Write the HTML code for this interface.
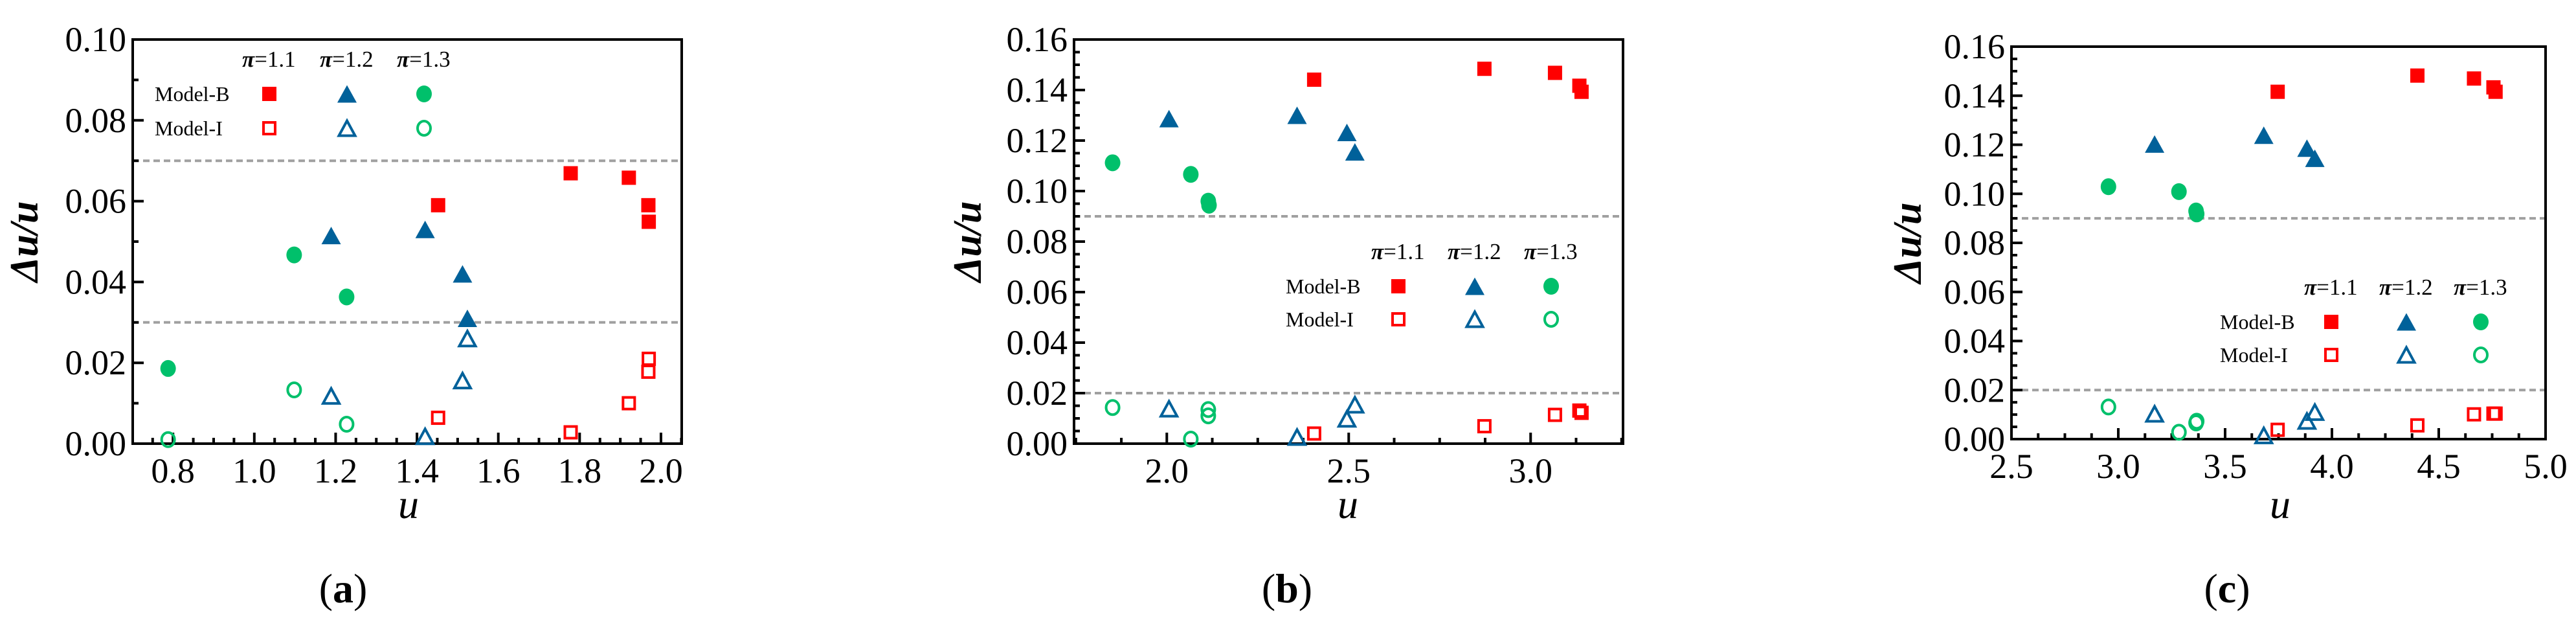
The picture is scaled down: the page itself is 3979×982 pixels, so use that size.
<!DOCTYPE html>
<html><head><meta charset="utf-8">
<style>
html,body{margin:0;padding:0;background:#fff;}
svg{display:block;}
svg text{font-family:"Liberation Serif","Times New Roman",serif;}
</style></head>
<body>
<svg id="fig" width="3979" height="982" viewBox="0 0 3979 982" xmlns="http://www.w3.org/2000/svg" font-family="Liberation Serif, serif"></svg>
<script>
// ---- Panel (a) data ----
const aBu = [1.452, 1.778, 1.921, 1.969, 1.970];
const aBv = [0.0590, 0.0669, 0.0658, 0.0590, 0.0549];
const aB2u = [1.189, 1.420, 1.512, 1.524];
const aB2v = [0.0515, 0.0530, 0.0420, 0.0310];
const aB3u = [0.788, 1.098, 1.227];
const aB3v = [0.0186, 0.0467, 0.0363];
const aIu = [1.452, 1.778, 1.921, 1.969, 1.970];
const aIv = [0.0064, 0.0028, 0.0100, 0.0178, 0.0210];
const aI2u = [1.189, 1.420, 1.512, 1.524];
const aI2v = [0.0118, 0.0018, 0.0156, 0.0260];
const aI3u = [0.788, 1.098, 1.227];
const aI3v = [0.0010, 0.0133, 0.0048];
const aXTicks = ["0.8","1.0","1.2","1.4","1.6","1.8","2.0"];
const aYTicks = ["0.00","0.02","0.04","0.06","0.08","0.10"];
const aRefLines = [0.07, 0.03];
// ---- Panel (b) data ----
const bBu = [2.405, 2.873, 3.067, 3.134, 3.140];
const bBv = [0.1441, 0.1484, 0.1468, 0.1417, 0.1393];
const bB2u = [2.006, 2.358, 2.495, 2.517];
const bB2v = [0.1287, 0.1300, 0.1232, 0.1155];
const bB3u = [1.851, 2.066, 2.114, 2.116];
const bB3v = [0.1112, 0.1066, 0.0960, 0.0944];
const bIu = [2.405, 2.873, 3.067, 3.134, 3.140];
const bIv = [0.0040, 0.0069, 0.0114, 0.0131, 0.0122];
const bI2u = [2.006, 2.358, 2.495, 2.517];
const bI2v = [0.0138, 0.0026, 0.0098, 0.0154];
const bI3u = [1.851, 2.066, 2.114, 2.114];
const bI3v = [0.0143, 0.0018, 0.0135, 0.0110];
const bXTicks = ["2.0","2.5","3.0"];
const bYTicks = ["0.00","0.02","0.04","0.06","0.08","0.10","0.12","0.14","0.16"];
const bRefLines = [0.09, 0.02];
// ---- Panel (c) data ----
const cBu = [3.746, 4.400, 4.665, 4.756, 4.766];
const cBv = [0.1416, 0.1482, 0.1470, 0.1434, 0.1416];
const cB2u = [3.170, 3.681, 3.883, 3.920];
const cB2v = [0.1203, 0.1239, 0.1186, 0.1145];
const cB3u = [2.954, 3.284, 3.364, 3.367];
const cB3v = [0.1029, 0.1009, 0.0930, 0.0918];
const cIu = [3.746, 4.400, 4.665, 4.756, 4.766];
const cIv = [0.0038, 0.0056, 0.0101, 0.0104, 0.0104];
const cI2u = [3.170, 3.681, 3.883, 3.920];
const cI2v = [0.0103, 0.0015, 0.0074, 0.0110];
const cI3u = [2.954, 3.284, 3.364, 3.367];
const cI3v = [0.0131, 0.0028, 0.0066, 0.0073];
const cXTicks = ["2.5","3.0","3.5","4.0","4.5","5.0"];
const cYTicks = ["0.00","0.02","0.04","0.06","0.08","0.10","0.12","0.14","0.16"];
const cRefLines = [0.09, 0.02];
const legendHeaders = ["=1.1","=1.2","=1.3"];

const NS = "http://www.w3.org/2000/svg";
const svg = document.getElementById("fig");
const RED = "#ff0000", BLUE = "#00619a", GREEN = "#00c06b";
const FF = "Liberation Serif, Times New Roman, serif";
function mk(tag, attrs, parent){
  const e = document.createElementNS(NS, tag);
  for (const k in attrs) e.setAttribute(k, attrs[k]);
  if (tag === "text") e.setAttribute("font-family", FF);
  (parent||svg).appendChild(e);
  return e;
}
function marker(g, kind, filled, color, cx, cy, name){
  let e;
  if (kind === "sq") {
    const s = filled ? 22 : 18;
    e = mk("rect", {x:cx-s/2, y:cy-s/2, width:s, height:s}, g);
  } else if (kind === "tri") {
    const w = filled ? 30 : 25, h = filled ? 27 : 23;
    e = mk("polygon", {points:`${cx-w/2},${cy+h/2} ${cx+w/2},${cy+h/2} ${cx},${cy-h/2}`}, g);
  } else {
    e = mk("ellipse", {cx:cx, cy:cy, rx:filled?12:10, ry:filled?13:11}, g);
  }
  if (filled) { e.setAttribute("fill", color); }
  else { e.setAttribute("fill", "none"); e.setAttribute("stroke", color); e.setAttribute("stroke-width", 4); }
  
  
  return e;
}

function panel(cfg){
  const g = mk("g", {});
  
  
  const {L,R,T,B,xmin,xmax,ymax} = cfg;
  const X = u => L + (u - xmin) / (xmax - xmin) * (R - L);
  const Y = v => B - v / ymax * (B - T);
  cfg.ref.forEach(v => {
    const l = mk("line", {x1:L, x2:R, y1:Y(v), y2:Y(v), stroke:"#a0a0a0", "stroke-width":4, "stroke-dasharray":"10 6"}, g);
    
    
  });
  const fr = mk("rect", {x:L, y:T, width:R-L, height:B-T, fill:"none", stroke:"#000", "stroke-width":4}, g);
  
  
  const ystep = parseFloat(cfg.yt[1]) - parseFloat(cfg.yt[0]);
  for (let v = 0; v <= ymax + 1e-9; v += ystep / cfg.yminor) {
    const isMaj = Math.abs(Math.round(v / ystep) * ystep - v) < 1e-9;
    mk("line", {x1:L, x2:L + (isMaj?17:9), y1:Y(v), y2:Y(v), stroke:"#000", "stroke-width":4}, g);
  }
  cfg.yt.forEach(t => {
    const tx = mk("text", {x:L-10, y:Y(parseFloat(t))+18, "font-size":54, "text-anchor":"end"}, g);
    tx.textContent = t;
    
    
  });
  const xs = parseFloat(cfg.xt[1]) - parseFloat(cfg.xt[0]);
  const x0 = parseFloat(cfg.xt[0]);
  for (let k = -cfg.xminor*2; ; k++) {
    const u = x0 + k * xs / cfg.xminor;
    if (u > xmax + 1e-9) break;
    if (u < xmin - 1e-9) continue;
    const isMaj = ((k % cfg.xminor) + cfg.xminor) % cfg.xminor === 0;
    mk("line", {x1:X(u), x2:X(u), y1:B, y2:B - (isMaj?17:9), stroke:"#000", "stroke-width":4}, g);
  }
  cfg.xt.forEach(t => {
    const tx = mk("text", {x:X(parseFloat(t)), y:cfg.xLabY, "font-size":54, "text-anchor":"middle"}, g);
    tx.textContent = t;
    
    
  });
  const xt = mk("text", {x:cfg.xTitleX, y:800, "font-size":64, "font-style":"italic", "text-anchor":"middle"}, g);
  xt.textContent = "u";
  
  
  const yt = mk("text", {x:0, y:0, "font-size":62, "font-style":"italic", "font-weight":"bold", "text-anchor":"middle", transform:`translate(${cfg.yTitleX},${(T+B)/2}) rotate(-90)`}, g);
  yt.textContent = "Δu/u";
  
  
  const pl = mk("text", {x:cfg.labX, y:930, "font-size":64, "text-anchor":"middle"}, g);
  pl.innerHTML = '(<tspan font-weight="bold">' + cfg.letter + '</tspan>)';
  
  
  const series = [
    [cfg.d[0],cfg.d[1],"sq",true,RED,"model-b-pi-1.1-point"],
    [cfg.d[2],cfg.d[3],"tri",true,BLUE,"model-b-pi-1.2-point"],
    [cfg.d[4],cfg.d[5],"circ",true,GREEN,"model-b-pi-1.3-point"],
    [cfg.d[6],cfg.d[7],"sq",false,RED,"model-i-pi-1.1-point"],
    [cfg.d[8],cfg.d[9],"tri",false,BLUE,"model-i-pi-1.2-point"],
    [cfg.d[10],cfg.d[11],"circ",false,GREEN,"model-i-pi-1.3-point"]
  ];
  series.forEach(s => s[0].forEach((u,i) => marker(g, s[2], s[3], s[4], X(u), Y(s[1][i]), s[5])));
  const lg = mk("g", {}, g);
  
  
  const kinds = ["sq","tri","circ"], cols = [RED,BLUE,GREEN];
  legendHeaders.forEach((h,i) => {
    const t = mk("text", {x:cfg.lgX[i]-42, y:cfg.lgY[0]-42, "font-size":35}, lg);
    t.innerHTML = '<tspan font-style="italic" font-weight="bold">π</tspan>' + h;
    
    
    marker(lg, kinds[i], true, cols[i], cfg.lgX[i], cfg.lgY[0], 'legend-marker');
    marker(lg, kinds[i], false, cols[i], cfg.lgX[i], cfg.lgY[1], 'legend-marker');
  });
  ["Model-B","Model-I"].forEach((m,i) => {
    const t = mk("text", {x:cfg.lgTX, y:cfg.lgY[i]+11, "font-size":32}, lg);
    t.textContent = m;
    
    
  });
}

panel({name:"panel-a", letter:"a", L:205, R:1053, T:61, B:685, xmin:0.701, xmax:2.051, ymax:0.10,
  xt:aXTicks, yt:aYTicks, ref:aRefLines, yminor:2, xminor:4, xLabY:745, xTitleX:631, yTitleX:58, labX:530,
  lgX:[416,536,655], lgY:[145,198], lgTX:239,
  d:[aBu,aBv,aB2u,aB2v,aB3u,aB3v,aIu,aIv,aI2u,aI2v,aI3u,aI3v]});
panel({name:"panel-b", letter:"b", L:1659, R:2507, T:61, B:685, xmin:1.745, xmax:3.254, ymax:0.16,
  xt:bXTicks, yt:bYTicks, ref:bRefLines, yminor:4, xminor:4, xLabY:745, xTitleX:2082, yTitleX:1515, labX:1988,
  lgX:[2160,2278,2396], lgY:[442,493], lgTX:1986,
  d:[bBu,bBv,bB2u,bB2v,bB3u,bB3v,bIu,bIv,bI2u,bI2v,bI3u,bI3v]});
panel({name:"panel-c", letter:"c", L:3107, R:3932, T:72, B:678, xmin:2.5, xmax:5.0, ymax:0.16,
  xt:cXTicks, yt:cYTicks, ref:cRefLines, yminor:4, xminor:4, xLabY:738, xTitleX:3522, yTitleX:2967, labX:3440,
  lgX:[3601,3717,3832], lgY:[497,548], lgTX:3429,
  d:[cBu,cBv,cB2u,cB2v,cB3u,cB3v,cIu,cIv,cI2u,cI2v,cI3u,cI3v]});
</script>
</body></html>
